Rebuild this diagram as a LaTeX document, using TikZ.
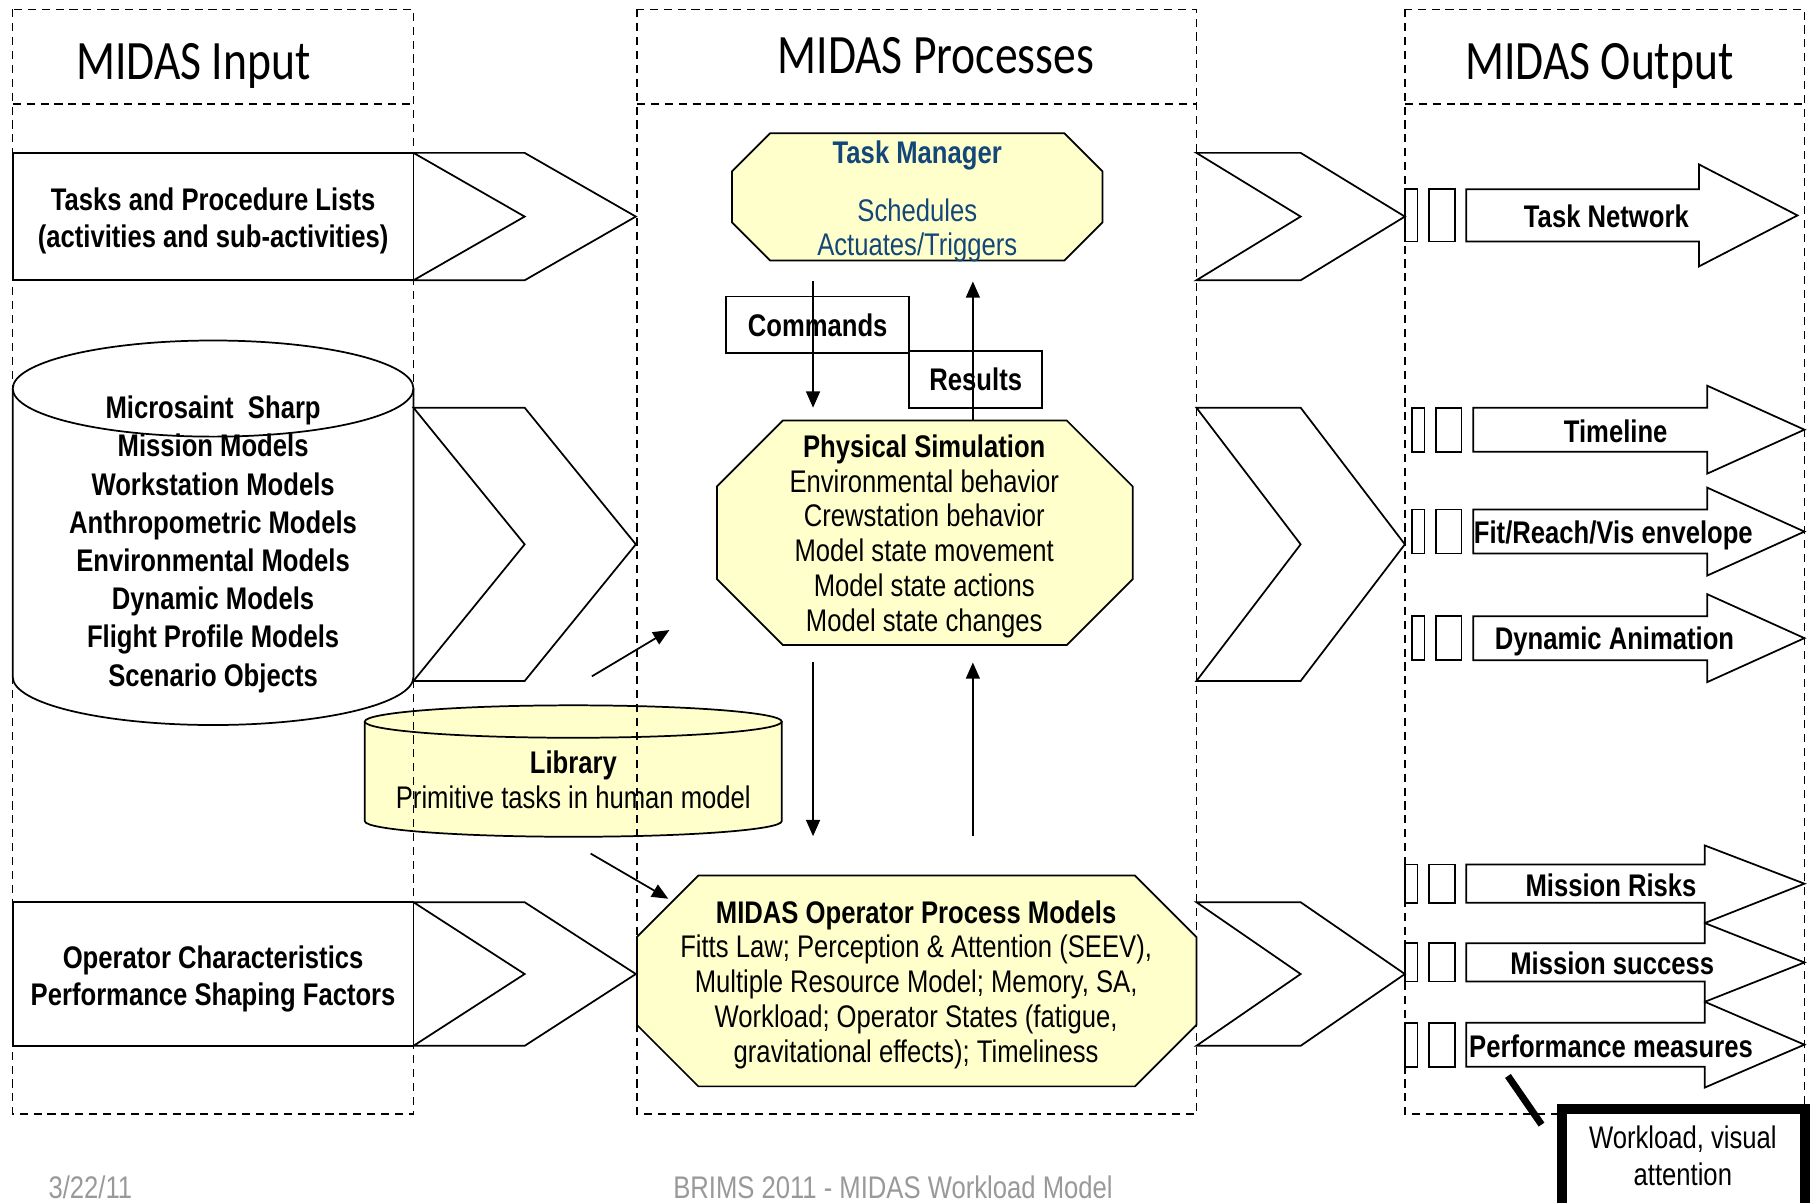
\documentclass[tikz,border=0pt]{standalone}
\usepackage{fontspec}
\setmainfont[FakeStretch=0.82]{Liberation Sans}
\newfontfamily\hdfont[FakeStretch=0.82]{Carlito}
\usetikzlibrary{arrows.meta}
\definecolor{ylw}{HTML}{FFFFCC}
\definecolor{tmblue}{HTML}{13477A}
\definecolor{footgray}{HTML}{999999}
\begin{document}
\begin{tikzpicture}[x=1pt, y=-1pt, line width=1.5pt,
    frame/.style={line width=1.3pt, dash pattern=on 7pt off 5pt},
    txt/.style={align=center, font=\fontsize{27}{30}\selectfont},
    btxt/.style={align=center, font=\fontsize{27}{32}\selectfont\bfseries},
    hd/.style={font=\hdfont\fontsize{48}{50}\selectfont},
    yel/.style={draw, fill=ylw},
    arr/.style={-{Triangle[length=14pt, width=12pt]}},
    foot/.style={text=footgray, font=\fontsize{27}{30}\selectfont}]
    \useasboundingbox (0,0) rectangle (1568,1038);
    % input side
    \draw (11,132) rectangle (357,242);
    \draw (357,132) -- (453,132) -- (549,187) -- (453,242) -- (357,242) -- (453,187) -- cycle;
    \draw (11,335.5) -- (11,584.5) arc[start angle=180, end angle=360, x radius=173pt, y radius=41.5pt] -- (357,335.5);
    \draw (184,335.5) ellipse [x radius=173pt, y radius=41.5pt];
    \draw (357,352) -- (453,352) -- (549,470) -- (453,588) -- (357,588) -- (453,470) -- cycle;
    \draw (11,779) rectangle (357,903);
    \draw (357,779) -- (453,779) -- (549,841) -- (453,903) -- (357,903) -- (453,841) -- cycle;
    \draw[yel] (315,623) -- (315,709) arc[start angle=180, end angle=360, x radius=180pt, y radius=13.5pt] -- (675,623);
    \draw[yel] (495,623) ellipse [x radius=180pt, y radius=14pt];
    % processes
    \draw[yel] (665,115) -- (919,115) -- (952,148) -- (952,192) -- (919,225) -- (665,225) -- (632,192) -- (632,148) -- cycle;
    \draw[yel] (676,363) -- (921,363) -- (978,420) -- (978,500) -- (921,557) -- (676,557) -- (619,500) -- (619,420) -- cycle;
    \draw[yel] (603,756) -- (980,756) -- (1033,809) -- (1033,885) -- (980,938) -- (603,938) -- (550,885) -- (550,809) -- cycle;
    \node[draw, btxt, minimum width=158pt, minimum height=49pt] (cmds) at (706,280.5) {Commands};
    \node[draw, btxt, minimum width=115pt, minimum height=49pt] (res) at (842.5,327.5) {Results};
    \draw (1033,132) -- (1123,132) -- (1213,187) -- (1123,242) -- (1033,242) -- (1123,187) -- cycle;
    \draw (1033,352) -- (1123,352) -- (1213,470) -- (1123,588) -- (1033,588) -- (1123,470) -- cycle;
    \draw (1033,779) -- (1123,779) -- (1213,841) -- (1123,903) -- (1033,903) -- (1123,841) -- cycle;
    % output
    \draw (1213,163.5) rectangle (1224,208.5) (1234,163.5) rectangle (1256,208.5);
    \draw (1266,163.5) -- (1467,163.5) -- (1467,142) -- (1552,186) -- (1467,230) -- (1467,208.5) -- (1266,208.5) -- cycle;
    \draw (1219,352) rectangle (1230,390) (1240,352) rectangle (1262,390);
    \draw (1272,352) -- (1474,352) -- (1474,333) -- (1558,371) -- (1474,409) -- (1474,390) -- (1272,390) -- cycle;
    \draw (1219,440) rectangle (1230,478) (1240,440) rectangle (1262,478);
    \draw (1272,440) -- (1474,440) -- (1474,421) -- (1558,459) -- (1474,497) -- (1474,478) -- (1272,478) -- cycle;
    \draw (1219,532) rectangle (1230,570) (1240,532) rectangle (1262,570);
    \draw (1272,532) -- (1474,532) -- (1474,513) -- (1558,551) -- (1474,589) -- (1474,570) -- (1272,570) -- cycle;
    \draw (1213,746.5) rectangle (1224,779.5) (1234,746.5) rectangle (1256,779.5);
    \draw (1266,746.5) -- (1472,746.5) -- (1472,730) -- (1558,763) -- (1472,797) -- (1472,779.5) -- (1266,779.5) -- cycle;
    \draw (1213,814.5) rectangle (1224,847.5) (1234,814.5) rectangle (1256,847.5);
    \draw (1266,814.5) -- (1472,814.5) -- (1472,797) -- (1558,831) -- (1472,865) -- (1472,847.5) -- (1266,847.5) -- cycle;
    \draw (1213,883) rectangle (1224,921) (1234,883) rectangle (1256,921);
    \draw (1266,883) -- (1472,883) -- (1472,865) -- (1558,902) -- (1472,939) -- (1472,921) -- (1266,921) -- cycle;
    % frames
    \draw[frame] (11,8) rectangle (357,962) (11,90) -- (357,90);
    \draw[frame] (550,8) rectangle (1033,962) (550,90) -- (1033,90);
    \draw[frame] (1213,8) rectangle (1558,962) (1213,90) -- (1558,90);
    % texts
    \node[hd] (inHd) at (167,57) {MIDAS Input};
    \node[hd] (procHd) at (808,48) {MIDAS Processes};
    \node[hd] (outHd) at (1381,57) {MIDAS Output};
    \node[btxt] (tasks) at (184,191) {Tasks and Procedure Lists\\(activities and sub-activities)};
    \node[btxt, font=\fontsize{27}{33}\selectfont\bfseries] (models) at (184,470) {Microsaint\ \ Sharp\\Mission Models\\Workstation Models\\Anthropometric Models\\Environmental Models\\Dynamic Models\\Flight Profile Models\\Scenario Objects};
    \node[btxt] (opChar) at (184,845) {Operator Characteristics\\Performance Shaping Factors};
    \node[txt] (lib) at (495,673) {\textbf{Library}\\Primitive tasks in human model};
    \node[btxt, text=tmblue] (tm) at (792,134) {Task Manager};
    \node[txt, text=tmblue] (tmSub) at (792,199) {Schedules\\Actuates/Triggers};
    \node[txt] (physSim) at (798,463) {\textbf{Physical Simulation}\\Environmental behavior\\Crewstation behavior\\Model state movement\\Model state actions\\Model state changes};
    \node[txt] (opModel) at (791,850) {\textbf{MIDAS Operator Process Models}\\Fitts Law; Perception \& Attention (SEEV),\\Multiple Resource Model; Memory, SA,\\Workload; Operator States (fatigue,\\gravitational effects); Timeliness};
    \node[btxt] (tn) at (1387,187) {Task Network};
    \node[btxt] (tl) at (1395,372) {Timeline};
    \node[btxt] (fit) at (1393,462) {Fit/Reach/Vis envelope};
    \node[btxt] (dyn) at (1394,554) {Dynamic Animation};
    \node[btxt] (risk) at (1391,764) {Mission Risks};
    \node[btxt] (succ) at (1392,832) {Mission success};
    \node[btxt] (perf) at (1391,903) {Performance measures};
    \node[foot] (date) at (78,1025) {3/22/11};
    \node[foot] (brims) at (771,1025) {BRIMS 2011 - MIDAS Workload Model};
    % arrows
    \coordinate (cmdA) at (702,243);
    \coordinate (cmdB) at (702,352);
    \coordinate (resA) at (840,363);
    \coordinate (resB) at (840,243);
    \coordinate (dnA) at (702,572);
    \coordinate (dnB) at (702,722);
    \coordinate (upA) at (840,722);
    \coordinate (upB) at (840,572);
    \coordinate (libA) at (511,584);
    \coordinate (libB) at (578,544);
    \coordinate (libC) at (510,737);
    \coordinate (libD) at (577,776);
    \draw[arr] (cmdA) -- (cmdB);
    \draw[arr] (resA) -- (resB);
    \draw[arr] (dnA) -- (dnB);
    \draw[arr] (upA) -- (upB);
    \draw[arr] (libA) -- (libB);
    \draw[arr] (libC) -- (libD);
    % callout
    \draw[line width=9pt, fill=white] (1348.5,957.5) rectangle (1558.5,1050);
    \node[txt, font=\fontsize{27}{32}\selectfont] (wl) at (1453,998) {Workload, visual\\attention};
    \coordinate (ptrA) at (1302,929);
    \coordinate (ptrB) at (1331,971);
    \draw[line width=6pt] (ptrA) -- (ptrB);
\end{tikzpicture}
\end{document}
